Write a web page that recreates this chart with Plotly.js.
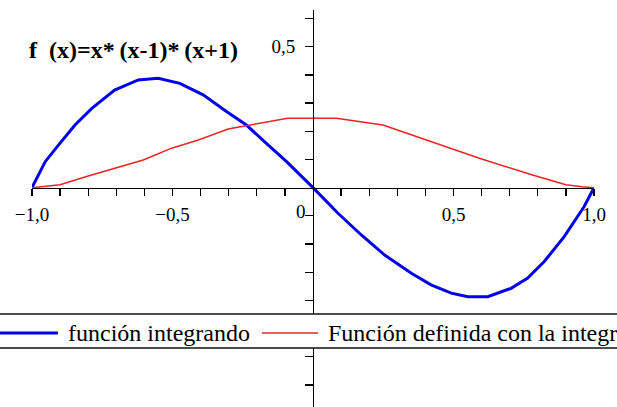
<!DOCTYPE html>
<html>
<head>
<meta charset="utf-8">
<script src="https://cdn.plot.ly/plotly-3.0.1.min.js"></script>
<style>
  html, body { margin: 0; padding: 0; background: #fff; }
  #plot { width: 617px; height: 407px; }
</style>
</head>
<body>
<div id="plot"></div>
<script>
// f(x) = x*(x-1)*(x+1), sampled
const xF = [-1.0, -0.953, -0.906, -0.847, -0.787, -0.706, -0.622, -0.551, -0.474, -0.391, -0.308, -0.237, -0.166, -0.094, 0.0,
            0.089, 0.172, 0.255, 0.35, 0.42, 0.492, 0.551, 0.622, 0.705, 0.764, 0.823, 0.894, 0.965, 1.0];
const yF = [0.0, 0.092, 0.151, 0.222, 0.281, 0.346, 0.382, 0.388, 0.370, 0.329, 0.270, 0.222, 0.157, 0.092, 0.0,
            -0.091, -0.168, -0.239, -0.304, -0.345, -0.374, -0.387, -0.387, -0.357, -0.321, -0.262, -0.174, -0.067, 0.0];

// integral of f from -1 to x, sampled
const xI = [-1.0, -0.953, -0.9, -0.8, -0.704, -0.604, -0.503, -0.408, -0.302, -0.207, -0.09, 0.0,
            0.083, 0.249, 0.403, 0.592, 0.781, 0.9, 0.958, 1.0];
const yI = [0.0, 0.004, 0.01, 0.041, 0.069, 0.098, 0.140, 0.169, 0.208, 0.225, 0.246, 0.246,
            0.246, 0.222, 0.169, 0.104, 0.045, 0.01, 0.003, 0.0];

const seriesNames = ['función integrando', 'Función definida con la integral'];
const titleText = 'f\u00a0\u00a0(x)=x*\u2009(x-1)*\u2009(x+1)';

// axis ticks every 0.1, only a few labelled
const xTickVals = [-1.0, -0.9, -0.8, -0.7, -0.6, -0.5, -0.4, -0.3, -0.2, -0.1, 0.1, 0.2, 0.3, 0.4, 0.5, 0.6, 0.7, 0.8, 0.9, 1.0];
const xTickText = ['\u22121,0', '', '', '', '', '\u22120,5', '', '', '', '', '', '', '', '', '0,5', '', '', '', '', '1,0'];
const yTickVals = [-0.7, -0.6, -0.5, -0.4, -0.3, -0.2, -0.1, 0.1, 0.2, 0.3, 0.4, 0.5, 0.6];
const yTickText = ['', '', '', '', '', '', '', '', '', '', '', '0,5', ''];
const originLabel = '0';

const W = 617, H = 407;
const M = { l: 32, r: 23, t: 10, b: 0 };
const xRange = [-1, 1];
const yRange = [-0.778, 0.630];
const plotW = W - M.l - M.r, plotH = H - M.t - M.b;
// pixel -> paper helpers for decorations
const px = p => (p - M.l) / plotW;
const py = p => (H - M.b - p) / plotH;

const serif = '"Liberation Serif", serif';

const traces = [
  { x: xF, y: yF, mode: 'lines', name: seriesNames[0],
    line: { color: 'rgb(0,0,235)', width: 3 }, showlegend: false, hoverinfo: 'skip' },
  { x: xI, y: yI, mode: 'lines', name: seriesNames[1],
    line: { color: 'rgb(235,35,35)', width: 1.5 }, showlegend: false, hoverinfo: 'skip' }
];

const legY = 333;
const layout = {
  width: W, height: H,
  margin: M,
  paper_bgcolor: '#fff', plot_bgcolor: '#fff',
  showlegend: false,
  font: { family: serif, color: '#000' },
  xaxis: {
    range: xRange, anchor: 'free', position: (0 - yRange[0]) / (yRange[1] - yRange[0]),
    showgrid: false, zeroline: false, showline: true, linecolor: '#000', linewidth: 1.3,
    tickmode: 'array', tickvals: xTickVals, ticktext: xTickText,
    ticks: 'outside', ticklen: 7, tickwidth: 1.3, tickcolor: '#000',
    ticklabelstandoff: 2,
    tickfont: { family: serif, size: 19, color: '#000' }, fixedrange: true
  },
  yaxis: {
    range: yRange, anchor: 'free', position: (0 - xRange[0]) / (xRange[1] - xRange[0]),
    showgrid: false, zeroline: false, showline: true, linecolor: '#000', linewidth: 1.3,
    tickmode: 'array', tickvals: yTickVals, ticktext: yTickText,
    ticks: 'outside', ticklen: 8, tickwidth: 1.3, tickcolor: '#000',
    ticklabelstandoff: 6,
    tickfont: { family: serif, size: 19, color: '#000' }, fixedrange: true
  },
  shapes: [
    // legend band
    { type: 'rect', xref: 'paper', yref: 'paper', x0: px(-5), x1: px(W + 5), y0: py(348), y1: py(314),
      fillcolor: '#fff', line: { width: 0 }, layer: 'above' },
    { type: 'line', xref: 'paper', yref: 'paper', x0: px(-5), x1: px(W + 5), y0: py(314), y1: py(314),
      line: { color: '#111', width: 1.5 }, layer: 'above' },
    { type: 'line', xref: 'paper', yref: 'paper', x0: px(-5), x1: px(W + 5), y0: py(348), y1: py(348),
      line: { color: '#111', width: 1.5 }, layer: 'above' },
    { type: 'line', xref: 'paper', yref: 'paper', x0: px(0), x1: px(58), y0: py(legY), y1: py(legY),
      line: { color: 'rgb(0,0,235)', width: 3 }, layer: 'above' },
    { type: 'line', xref: 'paper', yref: 'paper', x0: px(262), x1: px(318), y0: py(legY), y1: py(legY),
      line: { color: 'rgb(235,35,35)', width: 1.5 }, layer: 'above' }
  ],
  annotations: [
    { text: titleText, xref: 'paper', yref: 'paper', x: px(27), y: py(50), xanchor: 'left', yanchor: 'middle',
      showarrow: false, font: { family: serif, size: 24, color: '#000', weight: 'bold' } },
    { text: originLabel, xref: 'x', yref: 'paper', x: 0, y: py(211), xanchor: 'right', yanchor: 'middle', xshift: -5,
      showarrow: false, font: { family: serif, size: 19, color: '#000' } },
    { text: seriesNames[0], xref: 'paper', yref: 'paper', x: px(66), y: py(legY), xanchor: 'left', yanchor: 'middle',
      showarrow: false, font: { family: serif, size: 24, color: '#000' } },
    { text: seriesNames[1], xref: 'paper', yref: 'paper', x: px(326), y: py(legY), xanchor: 'left', yanchor: 'middle',
      showarrow: false, font: { family: serif, size: 24, color: '#000' } }
  ]
};

Plotly.newPlot('plot', traces, layout, { staticPlot: true, displayModeBar: false });
</script>
</body>
</html>
